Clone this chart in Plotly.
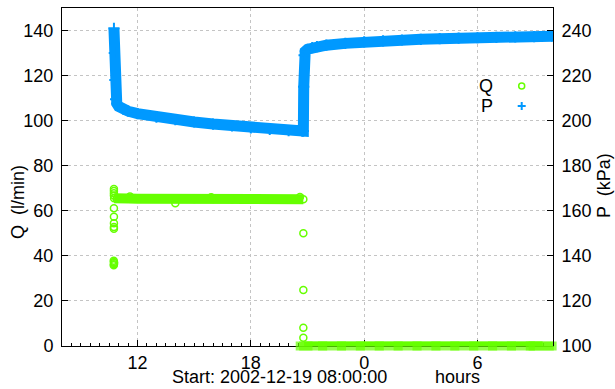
import plotly.graph_objects as go

# Elapsed time is measured in hours from the start of the record (2002-12-19 08:00).
# Flow Q (l/min): steady pumping segment, transient samples, and the shut-off segment.
q_on_hours = [2.76, 2.9, 3.2, 3.5, 4.0, 5.0, 6.0, 7.0, 8.0, 9.0, 10.0, 11.0, 12.0, 12.78]
q_on_vals = [65.6, 65.4, 65.3, 65.5, 65.4, 65.3, 65.3, 65.2, 65.2, 65.1, 65.1, 65.0, 65.0, 65.1]

q_tr_hours = [2.74, 2.75, 2.76, 2.75, 2.74, 2.75, 2.75, 2.75, 2.75, 2.75, 2.75, 2.75,
              2.75, 2.75, 3.6, 6.0, 7.9, 12.6, 12.78, 12.78, 12.78, 12.78]
q_tr_vals = [35.8, 36.3, 36.8, 37.3, 37.8, 52.0, 52.8, 54.5, 57.4, 61.1, 66.8, 67.8,
             68.8, 69.7, 66.3, 63.3, 66.0, 66.1, 50.0, 24.9, 8.1, 3.7]

q_off_hours = [12.82, 13.3, 14.3, 15.3, 16.3, 17.3, 18.3, 19.3, 20.3, 21.3, 22.3,
               23.3, 24.3, 25.3, 25.45]
q_off_vals = [0.0, 0.0, 0.0, 0.0, 0.0, 0.0, 0.0, 0.0, 0.0, 0.0, 0.0, 0.0, 0.0, 0.0, 0.0]

# Pressure P (kPa)
p_hours = [2.75, 2.77, 2.80, 2.84, 2.90, 3.0, 3.25, 3.5, 4.0, 5.0, 6.0, 7.0, 8.0, 9.0,
           10.0, 11.0, 12.0, 12.72, 12.78, 12.80, 12.82, 12.88, 13.0, 13.25, 13.5, 14.0,
           15.0, 16.0, 17.0, 18.0, 19.0, 20.0, 21.0, 22.0, 23.0, 24.0, 25.0, 25.95]
p_vals = [241.0, 230.0, 218.0, 209.5, 207.6, 206.3, 205.0, 204.2, 203.1, 201.6, 200.4,
          199.4, 198.5, 197.7, 196.8, 196.1, 195.6, 195.3, 195.4, 215.0, 229.0, 230.8,
          231.7, 232.4, 232.9, 233.5, 234.3, 235.0, 235.4, 235.8, 236.1, 236.4, 236.6,
          236.8, 237.0, 237.2, 237.3, 237.5]

x_tick_vals = [4, 10, 16, 22]
x_tick_text = ["12", "18", "0", "6"]
q_ticks = [0, 20, 40, 60, 80, 100, 120, 140]
p_ticks = [100, 120, 140, 160, 180, 200, 220, 240]

GREEN = "#66ff00"
BLUE = "#0099ff"
FONT = "Liberation Sans, Arial, sans-serif"
FS = 18

W, H = 615, 389
L, R, T, B = 62, 553, 8, 346


def px(x):
    return (x - L) / (R - L)


def py(y):
    return (B - y) / (B - T)


q_marker = dict(symbol="circle-open", size=7, color=GREEN, line=dict(width=1.5))

fig = go.Figure()

fig.add_trace(go.Scatter(
    x=q_on_hours, y=q_on_vals, mode="lines+markers", name="Q",
    line=dict(color=GREEN, width=10), marker=q_marker, showlegend=False))

# the shut-off record sits on the axis; short horizontal strokes keep the full
# band thickness visible below the axis line
off_sizes = [12] + [20] * (len(q_off_hours) - 1)
fig.add_trace(go.Scatter(
    x=q_off_hours, y=q_off_vals, mode="lines+markers", name="Q",
    line=dict(color=GREEN, width=9), cliponaxis=False,
    marker=dict(symbol="line-ew-open", size=off_sizes, color=GREEN,
                line=dict(width=9, color=GREEN)),
    showlegend=False))

fig.add_trace(go.Scatter(
    x=q_tr_hours, y=q_tr_vals, mode="markers", name="Q",
    marker=q_marker, showlegend=False))

fig.add_trace(go.Scatter(
    x=p_hours, y=p_vals, mode="lines+markers", name="P", yaxis="y2",
    line=dict(color=BLUE, width=11),
    marker=dict(symbol="cross-thin-open", size=8, color=BLUE, line=dict(width=2, color=BLUE)),
    showlegend=False))

grid = dict(showgrid=True, gridcolor="#c4c4c4", griddash="dot", gridwidth=1)

fig.update_layout(
    width=W, height=H,
    margin=dict(l=L, r=W - R, t=T, b=H - B, pad=0),
    paper_bgcolor="white", plot_bgcolor="white",
    font=dict(family=FONT, size=FS, color="black"),
    showlegend=False,
    xaxis=dict(range=[0, 26], tickvals=x_tick_vals, ticktext=x_tick_text,
               ticks="inside", ticklen=6, tickcolor="black", ticklabelstandoff=0,
               minor=dict(dtick=0.5, ticks="inside", ticklen=3, tickcolor="black", showgrid=False),
               showline=True, linecolor="black", linewidth=1, mirror=True,
               zeroline=False, layer="below traces", **grid),
    yaxis=dict(range=[0, 150], tickvals=q_ticks, ticks="inside", ticklen=6,
               tickcolor="black", showline=True, linecolor="black", linewidth=1,
               ticklabelstandoff=4, mirror=True, zeroline=False, **grid),
    yaxis2=dict(range=[100, 250], tickvals=p_ticks, overlaying="y", side="right",
                ticks="inside", ticklen=6, tickcolor="black", showline=True,
                ticklabelstandoff=4,
                linecolor="black", linewidth=1, showgrid=False, zeroline=False),
)

annotations = [
    dict(text="Q  (l/min)", x=px(18), y=py(202), textangle=-90),
    dict(text="P  (kPa)", x=px(604), y=py(186), textangle=-90),
    dict(text="Start: 2002-12-19 08:00:00", x=px(279), y=py(389), yanchor="bottom"),
    dict(text="hours", x=px(457), y=py(389), yanchor="bottom"),
    dict(text="Q", x=px(495), y=py(86), xanchor="right"),
    dict(text="P", x=px(495), y=py(106), xanchor="right"),
]
for a in annotations:
    a.setdefault("xanchor", "center")
    a.setdefault("yanchor", "middle")
    fig.add_annotation(xref="paper", yref="paper", showarrow=False,
                       font=dict(family=FONT, size=FS, color="black"), **a)

# key symbols
cx, cq, cp = 521.7, 86, 106
fig.add_shape(type="circle", xref="paper", yref="paper",
              x0=px(cx - 3), x1=px(cx + 3), y0=py(cq + 3), y1=py(cq - 3),
              line=dict(color=GREEN, width=1.5))
fig.add_shape(type="line", xref="paper", yref="paper",
              x0=px(cx - 4), x1=px(cx + 4), y0=py(cp), y1=py(cp),
              line=dict(color=BLUE, width=2))
fig.add_shape(type="line", xref="paper", yref="paper",
              x0=px(cx), x1=px(cx), y0=py(cp - 4), y1=py(cp + 4),
              line=dict(color=BLUE, width=2))

fig.write_html("out.html")
